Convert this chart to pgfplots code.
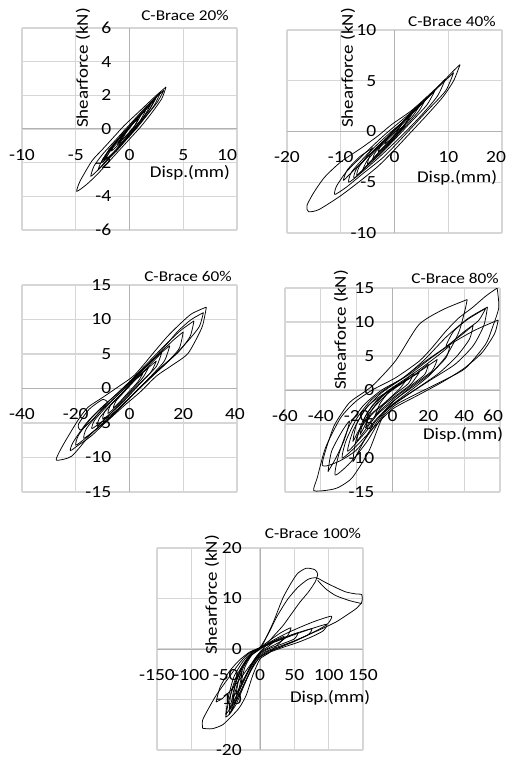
\documentclass[border=0pt]{standalone}
\usepackage{fontspec}
\setmainfont{Carlito}[FakeStretch=1.15]
\usepackage{pgfplots}
\pgfplotsset{compat=1.18}
\newcommand\tickfont{\fontsize{17}{17}\selectfont}
\newcommand\labfont{\fontsize{16.5}{17}\selectfont}
\newcommand\titfont{\fontsize{15}{16}\selectfont}
\pgfplotsset{
  brace/.style={
    scale only axis,
    axis lines=middle,
    axis line style={-, draw=gray!60, line width=1pt},
    grid=major,
    grid style={draw=gray!32, line width=1.2pt},
    major tick length=0pt,
    enlargelimits=false,
    tick label style={font=\tickfont},
    xticklabel style={anchor=center, yshift=-26pt},
    yticklabel style={anchor=east, inner sep=0pt, xshift=-18pt},
    /pgf/number format/assume math mode=true,
    hide obscured x ticks=false,
    hide obscured y ticks=false,
  },
  lastx/.style 2 args={extra x ticks={#1}, extra x tick labels={#1},
    extra x tick style={grid=none, xticklabel style={xshift=#2}}},
  tpos/.style 2 args={every axis title/.style={at={(axis description cs:#1,#2)}, anchor=center, font=\titfont}},
  xlpos/.style 2 args={every axis x label/.style={at={(axis description cs:#1,#2)}, anchor=center, font=\labfont}},
  ylpos/.style 2 args={every axis y label/.style={at={(axis description cs:#1,#2)}, anchor=center, rotate=90, font=\labfont}},
  lp/.style={black, line width=0.75pt, smooth, tension=0.4, mark=none},
}
\begin{document}
\begin{tikzpicture}
\path[use as bounding box] (0pt,0pt) rectangle (510pt,-759pt);
% ---------------- Panel 1 ----------------
\begin{axis}[brace, at={(22pt,-230pt)}, anchor=south west, width=215pt, height=202pt,
  xmin=-10, xmax=10, ymin=-6, ymax=6,
  xtick={-10,-5,0,5,10}, xticklabels={-10,-5,0,5,{}}, lastx={10}{-10pt},
  ytick={-6,-4,-2,0,2,4,6},
  title={C-Brace 20\%}, tpos={0.758}{1.064},
  xlabel={Disp.(mm)}, xlpos={0.781}{0.282},
  ylabel={Shearforce (kN)}, ylpos={0.284}{0.802}]
\addplot[lp] coordinates {(3.4,2.5) (3.0,1.8) (2.0,0.9) (1.0,0.1) (0,-0.6) (-1.0,-1.3) (-2.0,-2.0) (-3.0,-2.7) (-4.0,-3.3) (-4.9,-3.7) (-4.6,-3.1) (-3.5,-1.9) (-2.5,-1.2) (-1.5,-0.5) (-0.5,0.2) (0.5,0.8) (1.5,1.4) (2.5,2.0) (3.4,2.5)};
\addplot[lp] coordinates {(3.2,2.3) (2.6,1.6) (1.6,0.8) (0.6,0.0) (-0.4,-0.7) (-1.4,-1.4) (-2.4,-2.1) (-3.2,-2.6) (-3.6,-2.8) (-3.3,-2.2) (-2.5,-1.5) (-1.5,-0.8) (-0.5,-0.1) (0.5,0.6) (1.5,1.3) (2.5,1.9) (3.2,2.3)};
\addplot[lp] coordinates {(2.9,2.2) (2.3,1.4) (1.2,0.5) (0,-0.4) (-1.2,-1.3) (-2.2,-1.9) (-2.9,-2.4) (-2.5,-1.8) (-1.5,-1.0) (-0.4,-0.2) (0.8,0.7) (2.0,1.6) (2.9,2.2)};
\addplot[lp] coordinates {(2.4,1.8) (1.8,1.1) (0.8,0.3) (-0.2,-0.5) (-1.2,-1.2) (-2.0,-1.7) (-2.6,-2.0) (-2.2,-1.5) (-1.4,-0.9) (-0.4,-0.2) (0.6,0.5) (1.6,1.2) (2.4,1.8)};
\addplot[lp] coordinates {(2.0,1.5) (1.4,0.8) (0.4,0.0) (-0.8,-0.9) (-1.8,-1.6) (-2.2,-1.8) (-1.8,-1.3) (-0.8,-0.6) (0.3,0.3) (1.3,1.0) (2.0,1.5)};
\addplot[lp] coordinates {(2.6,2.0) (2.0,1.3) (1.0,0.4) (-0.2,-0.5) (-1.0,-1.0) (-0.3,-0.2) (0.8,0.7) (1.8,1.4) (2.6,2.0)};
\addplot[lp] coordinates {(1.5,1.1) (1.0,0.5) (0.2,-0.1) (-0.6,-0.7) (-1.3,-1.1) (-1.7,-1.3) (-1.3,-0.8) (-0.6,-0.3) (0.2,0.3) (0.9,0.8) (1.5,1.1)};
\addplot[lp] coordinates {(1.2,1.0) (0.6,0.3) (-0.3,-0.4) (-1.1,-0.9) (-0.6,-0.4) (0.3,0.4) (1.2,1.0)};
\addplot[lp] coordinates {(0.8,0.6) (0.4,0.1) (-0.3,-0.4) (-0.9,-0.7) (-0.5,-0.2) (0.2,0.3) (0.8,0.6)};
\addplot[lp] coordinates {(-0.5,-0.1) (-1.5,-1.0) (-2.4,-1.9) (-1.9,-1.2) (-0.8,-0.4) (-0.5,-0.1)};
\end{axis}
% ---------------- Panel 2 ----------------
\begin{axis}[brace, at={(287pt,-233pt)}, anchor=south west, width=215pt, height=203pt,
  xmin=-20, xmax=20, ymin=-10, ymax=10,
  xtick={-20,-10,0,10,20}, xticklabels={-20,-10,0,10,{}}, lastx={20}{-6pt},
  ytick={-10,-5,0,5,10},
  title={C-Brace 40\%}, tpos={0.767}{1.044},
  xlabel={Disp.(mm)}, xlpos={0.791}{0.271},
  ylabel={Shearforce (kN)}, ylpos={0.284}{0.813}]
\addplot[lp] coordinates {(12.2,6.6) (11.0,5.0) (9.0,3.4) (6.0,1.6) (3.0,-0.1) (0,-1.8) (-3.0,-3.4) (-6.7,-5.0) (-10.2,-6.4) (-14.1,-7.7) (-16.0,-7.9) (-16.3,-7.3) (-15.0,-6.0) (-13.0,-4.5) (-10.0,-3.0) (-6.1,-1.6) (-3.0,-0.4) (-0.5,0.7) (3.0,2.0) (6.0,3.4) (9.0,4.9) (11.0,6.0) (12.2,6.6)};
\addplot[lp] coordinates {(11.0,5.8) (9.5,4.0) (6.0,2.0) (2.0,-0.3) (-2.0,-2.5) (-6.0,-4.2) (-9.0,-5.5) (-11.1,-6.2) (-10.8,-5.4) (-9.0,-4.0) (-6.0,-2.4) (-2.0,-0.4) (2.0,1.4) (6.0,3.3) (9.0,4.8) (11.0,5.8)};
\addplot[lp] coordinates {(9.5,5.2) (8.0,3.5) (5.0,1.6) (1.0,-0.6) (-3.0,-2.6) (-6.5,-4.2) (-8.5,-5.0) (-8.0,-4.0) (-5.0,-2.2) (-1.0,-0.2) (3.0,1.6) (6.5,3.5) (9.5,5.2)};
\addplot[lp] coordinates {(7.5,4.0) (6.0,2.6) (3.0,0.9) (0,-0.8) (-3.0,-2.4) (-5.5,-3.6) (-7.0,-4.3) (-6.5,-3.4) (-4.0,-1.9) (-1.0,-0.4) (2.0,1.2) (5.0,2.7) (7.5,4.0)};
\addplot[lp] coordinates {(6.0,3.4) (4.5,2.0) (1.5,0.2) (-2,-1.8) (-4,-2.8) (-3.5,-2.0) (-0.5,-0.4) (3,1.6) (6.0,3.4)};
\addplot[lp] coordinates {(5.0,2.8) (3.5,1.6) (1.0,0.1) (-1.5,-1.3) (-3.5,-2.4) (-5.0,-3.2) (-4.5,-2.3) (-2.5,-1.2) (0,0.1) (2.5,1.5) (5.0,2.8)};
\addplot[lp] coordinates {(4.0,2.4) (2.5,1.1) (0,-0.6) (-3,-2.1) (-5.5,-3.6) (-6,-3.9) (-5,-2.8) (-2,-1.0) (1,0.6) (4.0,2.4)};
\addplot[lp] coordinates {(3.0,1.7) (2.0,0.8) (0,-0.4) (-2.0,-1.5) (-3.0,-2.0) (-2.5,-1.3) (-1.0,-0.4) (1.0,0.6) (3.0,1.7)};
\addplot[lp] coordinates {(1.5,0.9) (0.5,0) (-0.8,-0.8) (-1.8,-1.2) (-1.2,-0.6) (0,0.2) (1.5,0.9)};
\addplot[lp] coordinates {(-4.0,-1.6) (-6.0,-3.0) (-8.5,-4.3) (-9.5,-4.8) (-8.8,-3.8) (-6.5,-2.5) (-4.0,-1.6)};
\addplot[lp] coordinates {(2.0,0.6) (-1.0,-1.2) (-4.5,-3.0) (-7.5,-4.6) (-7.0,-3.6) (-4.0,-2.0) (-0.5,-0.3) (2.0,0.6)};
\end{axis}
% ---------------- Panel 3 ----------------
\begin{axis}[brace, at={(22pt,-492pt)}, anchor=south west, width=215pt, height=207pt,
  xmin=-40, xmax=40, ymin=-15, ymax=15,
  xtick={-40,-20,0,20,40}, xticklabels={-40,-20,0,20,{}}, lastx={40}{-2pt},
  ytick={-15,-10,-5,0,5,10,15},
  title={C-Brace 60\%}, tpos={0.772}{1.039}]
\addplot[lp] coordinates {(28.6,11.8) (28.0,10.5) (26.8,8.7) (21.8,5.1) (15.6,3.3) (10.0,1.8) (4.0,-0.5) (-2.0,-2.5) (-8.0,-4.6) (-14.1,-6.5) (-21.5,-9.8) (-27.1,-10.4) (-26.5,-9.5) (-24.0,-7.7) (-19.0,-4.5) (-15.4,-2.7) (-10.0,-1.3) (-4.0,0.3) (2.0,2.0) (9.4,5.4) (14.0,7.5) (18.1,9.1) (23.0,10.8) (28.6,11.8)};
\addplot[lp] coordinates {(27.5,11.0) (26.0,9.0) (22.0,7.0) (16.0,4.5) (9.0,2.0) (2.0,-0.6) (-6.0,-3.8) (-14.0,-6.8) (-19.0,-8.2) (-22,-9) (-21,-7.8) (-16,-5.0) (-10,-2.6) (-3,-0.2) (5,2.8) (12,5.6) (18,8.3) (23,10.0) (27.5,11.0)};
\addplot[lp] coordinates {(24,9.8) (22.5,7.5) (18,5.2) (12,3.2) (5,0.6) (-3,-2.6) (-11,-5.4) (-17,-7.4) (-20,-8.2) (-19,-6.8) (-14,-4.2) (-7,-1.6) (0,1.0) (7,3.8) (13,6.2) (19,8.4) (24,9.8)};
\addplot[lp] coordinates {(20,8.2) (18.5,5.8) (14,3.8) (8,1.6) (0,-1.4) (-8,-4.4) (-14,-6.4) (-17,-7.2) (-16,-5.8) (-11,-3.4) (-4,-0.8) (3,1.9) (10,4.6) (16,6.9) (20,8.2)};
\addplot[lp] coordinates {(15,6.2) (13,4.0) (8,1.8) (2,-0.6) (-5,-3.2) (-11,-5.0) (-14,-5.8) (-13,-4.6) (-8,-2.4) (-2,0) (4,2.4) (10,4.6) (15,6.2)};
\addplot[lp] coordinates {(12,5.2) (10,3.2) (5,1.2) (-1,-1.2) (-8,-4.0) (-12,-5.5) (-11,-4.2) (-6,-2.0) (0,0.5) (6,2.8) (12,5.2)};
\addplot[lp] coordinates {(10,4.0) (8,2.4) (3,0.3) (-3,-2.2) (-8,-3.9) (-10,-4.4) (-9,-3.2) (-4,-1.2) (2,1.2) (7,3.0) (10,4.0)};
\addplot[lp] coordinates {(7,3.0) (5,1.6) (0,-0.6) (-5,-2.6) (-8,-3.6) (-7,-2.4) (-3,-0.8) (2,1.4) (7,3.0)};
\addplot[lp] coordinates {(5,2.2) (3,0.9) (-1,-0.8) (-4,-2.1) (-6,-2.8) (-5,-1.8) (-2,-0.5) (2,1.2) (5,2.2)};
\addplot[lp] coordinates {(-8,-2.0) (-13,-4.2) (-18,-6.0) (-19,-5.2) (-15,-3.0) (-10,-1.6) (-8,-2.0)};
\end{axis}
% ---------------- Panel 4 ----------------
\begin{axis}[brace, at={(285pt,-492pt)}, anchor=south west, width=215pt, height=204pt,
  xmin=-60, xmax=60, ymin=-15, ymax=15,
  xtick={-60,-40,-20,0,20,40,60}, xticklabels={-60,-40,-20,0,20,40,{}}, lastx={60}{-7pt},
  ytick={-15,-10,-5,0,5,10,15},
  title={C-Brace 80\%}, tpos={0.791}{1.049},
  xlabel={Disp.(mm)}, xlpos={0.828}{0.279},
  ylabel={Shearforce (kN)}, ylpos={0.26}{0.794}]
\addplot[lp] coordinates {(58.4,15.0) (59.3,12.1) (55.5,9.0) (51.9,6.7) (40.7,3.2) (27.7,1.3) (14.7,-0.4) (1.7,-2.2) (-5.7,-4.1) (-13.2,-9.0) (-22.5,-12.9) (-30,-14.3) (-35.5,-14.7) (-43.9,-14.8) (-42,-12.9) (-37.4,-8.5) (-29,-4.1) (-20.6,-1.7) (-11.3,0) (1.7,1.8) (14.7,4.2) (22,6.2) (29.6,8.6) (37,10.6) (44.5,12.1) (52,13.8) (58.4,15.0)};
\addplot[lp] coordinates {(41.7,13.3) (40.5,11.8) (37,8.5) (30,5.0) (20,2.0) (8,-0.5) (-4,-3.0) (-12,-6.0) (-20,-8.8) (-30,-10.5) (-39.2,-11.0) (-33,-5.5) (-26,-2.5) (-22.5,-1.5) (-11.3,0.6) (1.7,4.3) (14.7,9.6) (28,11.8) (41.7,13.3)};
\addplot[lp] coordinates {(53,12.2) (51,9.5) (45,6.5) (35,3.8) (22,1.6) (8,-0.8) (-4,-3.2) (-14,-7.5) (-24,-10.8) (-32,-12.5) (-30,-9.5) (-24,-5.2) (-16,-2.2) (-6,0) (6,1.8) (18,4.5) (30,7.8) (42,10.5) (53,12.2)};
\addplot[lp] coordinates {(59,10.3) (57,8.3) (50,5.5) (40,3.2) (28,1.2) (14,-0.8) (0,-2.8) (-10,-5.4) (-20,-8.2) (-28,-10) (-26,-7.5) (-20,-4.2) (-12,-1.5) (-2,0.5) (10,2.4) (22,4.8) (34,7.0) (46,8.8) (59,10.3)};
\addplot[lp] coordinates {(45,9.5) (43,7.5) (36,5.0) (26,2.5) (14,0.3) (2,-1.8) (-8,-4.0) (-17,-6.8) (-25,-9) (-22,-6.0) (-15,-2.8) (-6,-0.4) (5,1.6) (16,3.8) (28,6.0) (38,8.0) (45,9.5)};
\addplot[lp] coordinates {(32,6.5) (30,4.8) (22,2.6) (12,0.6) (2,-1.3) (-8,-3.5) (-15,-5.8) (-20,-7.5) (-17,-4.8) (-11,-2.2) (-3,-0.2) (7,1.6) (17,3.4) (26,5.2) (32,6.5)};
\addplot[lp] coordinates {(25,4.5) (22,2.8) (12,0.8) (0,-1.8) (-10,-4.8) (-18,-8.5) (-22,-10.5) (-20,-7.0) (-13,-3.4) (-3,-0.6) (10,1.8) (25,4.5)};
\addplot[lp] coordinates {(20,3.8) (18,2.3) (10,0.6) (2,-1.0) (-6,-2.8) (-12,-4.5) (-15,-5.5) (-12,-3.2) (-6,-1.0) (2,0.6) (10,1.8) (20,3.8)};
\addplot[lp] coordinates {(15,2.6) (10,0.8) (0,-1.2) (-10,-3.2) (-18,-5.6) (-22,-7.5) (-20,-5.0) (-14,-2.4) (-5,-0.6) (5,1.0) (15,2.6)};
\addplot[lp] coordinates {(12,2.5) (9,1.0) (3,-0.3) (-3,-1.6) (-7,-2.8) (-10,-4) (-7,-2.0) (-2,-0.3) (4,0.8) (12,2.5)};
\addplot[lp] coordinates {(8,1.6) (4,0.2) (-4,-1.8) (-12,-3.6) (-18,-6.5) (-15,-3.8) (-8,-1.4) (0,0.2) (8,1.6)};
\addplot[lp] coordinates {(52,12.0) (48,10.2) (40,8.6) (30,6.4) (34,8.6) (42,10.4) (52,12.0)};
\addplot[lp] coordinates {(-36,-12.0) (-34,-9.0) (-28,-6.0) (-24,-4.6) (-27,-7.4) (-32,-10.2) (-36,-12.0)};
\end{axis}
% ---------------- Panel 5 ----------------
\begin{axis}[brace, at={(157pt,-750pt)}, anchor=south west, width=206pt, height=202pt,
  xmin=-150, xmax=150, ymin=-20, ymax=20,
  xtick={-150,-100,-50,0,50,100,150}, ytick={-20,-10,0,10,20},
  title={C-Brace 100\%}, tpos={0.757}{1.07},
  xlabel={Disp.(mm)}, xlpos={0.84}{0.258},
  ylabel={Shearforce (kN)}, ylpos={0.267}{0.767}]
\addplot[lp] coordinates {(-45,-13) (-38,-8) (-28,-4) (-15,-1.5) (0,0) (8,2) (20,5.5) (33,10) (45,13) (55,15) (67.5,16.0) (80,15.7) (84,14.8) (80,13.2) (70,11.2) (57.7,9.2) (45,6.8) (33.3,4.6) (20,2.6) (10,1.0) (0,-0.8) (-10,-3.2) (-20,-6) (-30,-9) (-40,-11.8) (-45,-13)};
\addplot[lp] coordinates {(-50,-13.5) (-45,-10) (-35,-6.2) (-22,-2.5) (-10,-0.5) (0,0.3) (12,3.0) (25,6.5) (40,9.8) (55,12.2) (70,13.8) (82.2,14.1) (95,13.2) (110,12.2) (125,11.3) (140,10.9) (148,10.8) (149,9.8) (148,9.2) (140,8.0) (125,6.6) (110,5.3) (90,4.0) (70,2.8) (50,1.6) (30,0.4) (15,-0.5) (0,-1.6) (-12,-3.8) (-24,-7.5) (-35,-11) (-45,-13) (-50,-13.5)};
\addplot[lp] coordinates {(148,9.0) (130,9.6) (110,10.6) (95,12.0) (84,13.6)};
\addplot[lp] coordinates {(-64,-10.5) (-58,-7.5) (-45,-4.5) (-30,-2.2) (-15,-0.6) (0,0.2) (20,1.8) (40,3.2) (60,4.4) (80,5.5) (104,6.5) (100,5.2) (90,4.2) (70,2.8) (50,1.5) (30,0.4) (10,-0.6) (-10,-2.5) (-25,-5.2) (-40,-7.8) (-55,-9.8) (-64,-10.5)};
\addplot[lp] coordinates {(-83.6,-15.7) (-83.6,-14.1) (-75,-11.8) (-64,-9.2) (-50,-6.5) (-39.8,-4.6) (-30,-2.8) (-20.2,-1.3) (-10,-0.3) (0,0.3) (15,1.8) (30,3.2) (45,4.2) (40,2.6) (30,1.4) (13.9,-0.7) (0,-2.0) (-10.5,-5.2) (-20.2,-9.2) (-30,-11.6) (-39.8,-13.1) (-54.4,-15.0) (-70,-15.8) (-83.6,-15.7)};
\addplot[lp] coordinates {(-50,-13) (-46,-9.5) (-38,-5.5) (-25,-2.5) (-12,-0.6) (0,0.1) (20,1.3) (45,2.6) (70,3.8) (97,4.9) (92,3.6) (75,2.4) (55,1.3) (35,0.4) (15,-0.6) (0,-1.6) (-12,-4.0) (-25,-7.5) (-38,-10.8) (-50,-13)};
\addplot[lp] coordinates {(-45,-12) (-42,-8.5) (-33,-5.0) (-20,-2.2) (-8,-0.4) (5,0.6) (25,1.8) (50,3.0) (75,4.0) (70,2.8) (50,1.6) (30,0.6) (10,-0.4) (-5,-1.8) (-18,-4.8) (-30,-8.2) (-45,-12)};
\addplot[lp] coordinates {(-40,-11) (-36,-7) (-26,-3.8) (-14,-1.4) (0,0) (20,1.4) (40,2.4) (55,3.2) (50,2.0) (32,1.0) (12,0) (-5,-1.5) (-18,-4.6) (-30,-8) (-40,-11)};
\addplot[lp] coordinates {(-35,-9) (-30,-5.5) (-20,-2.6) (-8,-0.6) (5,0.6) (20,1.6) (35,2.5) (30,1.5) (15,0.4) (0,-0.8) (-12,-3.0) (-24,-6.2) (-35,-9)};
\addplot[lp] coordinates {(-28,-7) (-22,-3.6) (-12,-1.2) (0,0.2) (20,1.5) (12,0.5) (0,-0.6) (-10,-2.4) (-20,-5) (-28,-7)};
\addplot[lp] coordinates {(-42,-12.5) (-38,-9.5) (-32,-6.5) (-26,-4.5) (-30,-7.5) (-36,-10.5) (-42,-12.5)};
\end{axis}
\end{tikzpicture}
\end{document}
